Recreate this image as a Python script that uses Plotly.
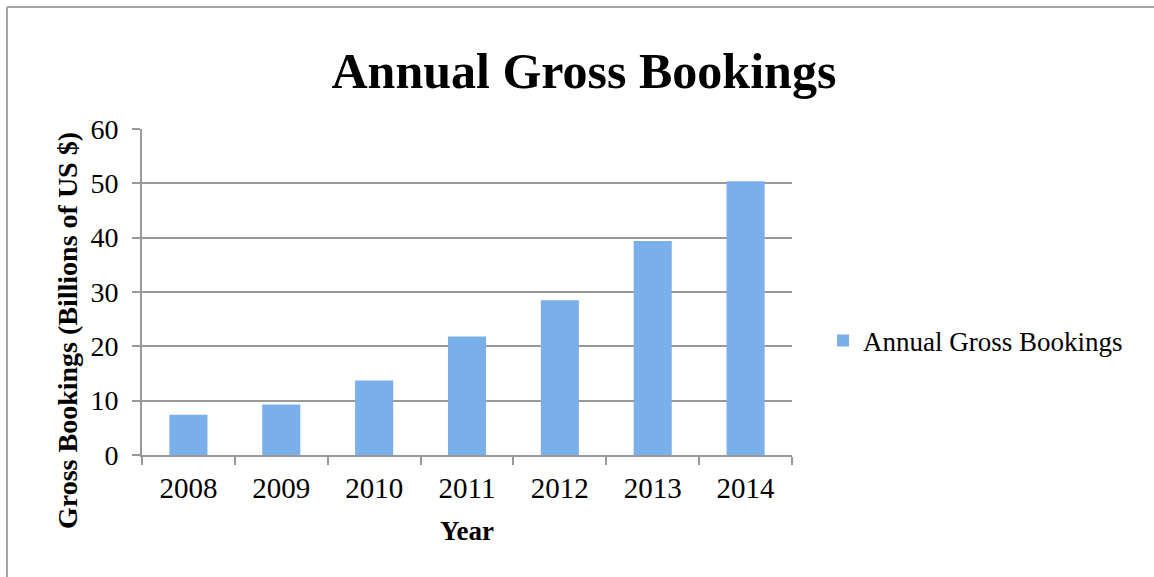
import plotly.graph_objects as go

years = ["2008", "2009", "2010", "2011", "2012", "2013", "2014"]
bookings = [7.4, 9.3, 13.7, 21.8, 28.5, 39.4, 50.4]
series_name = "Annual Gross Bookings"
y_ticks = [0, 10, 20, 30, 40, 50, 60]

W, H = 1154, 577
L, R, T, B = 142, 362, 129, 122
pw, ph = W - L - R, H - T - B

FONT = "Liberation Serif"
GRID = "#999999"

fig = go.Figure()
fig.add_trace(go.Bar(
    x=years, y=bookings, name=series_name,
    marker=dict(color="#7bafea", line=dict(width=0)),
    showlegend=True,
))

fig.update_layout(
    width=W, height=H,
    margin=dict(l=L, r=R, t=T, b=B),
    paper_bgcolor="white", plot_bgcolor="white",
    bargap=0.59,
    font=dict(family=FONT, color="black"),
    title=dict(text="<b>Annual Gross Bookings</b>", font=dict(family=FONT, size=50, color="black"),
               x=0.506, xref="container", xanchor="center", y=0.878, yref="container", yanchor="middle"),
    showlegend=True,
    legend=dict(x=(823 - L) / pw, xanchor="left", y=(455 - 341) / ph, yanchor="middle",
                font=dict(family=FONT, size=27, color="black"), itemwidth=30,
                bgcolor="rgba(0,0,0,0)"),
    xaxis=dict(
        type="category", tickson="boundaries", ticks="outside", ticklen=8, tickwidth=2,
        tickcolor=GRID, showline=True, linecolor=GRID, linewidth=2, showgrid=False,
        tickfont=dict(family=FONT, size=29, color="black"),
        ticklabelstandoff=6,
        title=dict(text="<b>Year</b>", font=dict(family=FONT, size=27, color="black"), standoff=18),
    ),
    yaxis=dict(
        range=[0, 60], tickvals=y_ticks, ticks="outside", ticklen=8, tickwidth=2, tickcolor=GRID,
        showline=True, linecolor=GRID, linewidth=2, showgrid=True, gridcolor=GRID, gridwidth=2,
        zeroline=False,
        tickfont=dict(family=FONT, size=28, color="black"),
        ticklabelstandoff=8,
    ),
    annotations=[dict(
        text="<b>Gross Bookings (Billions of US $)</b>", textangle=-90,
        xref="paper", yref="paper", x=(67 - L) / pw, y=(455 - 331) / ph,
        xanchor="center", yanchor="middle", showarrow=False,
        font=dict(family=FONT, size=28, color="black"),
    )],
)

# outer chart frame (top and left edges visible)
x_left = (7 - L) / pw
x_right = (W - L) / pw
y_top = (H - B - 7) / ph
y_bot = -(B) / ph
fig.add_shape(type="line", xref="paper", yref="paper", x0=x_left, x1=x_right, y0=y_top, y1=y_top,
              line=dict(color="#a6a6a6", width=2))
fig.add_shape(type="line", xref="paper", yref="paper", x0=x_left, x1=x_left, y0=y_top, y1=y_bot,
              line=dict(color="#a6a6a6", width=2))

fig.write_html("out.html")
